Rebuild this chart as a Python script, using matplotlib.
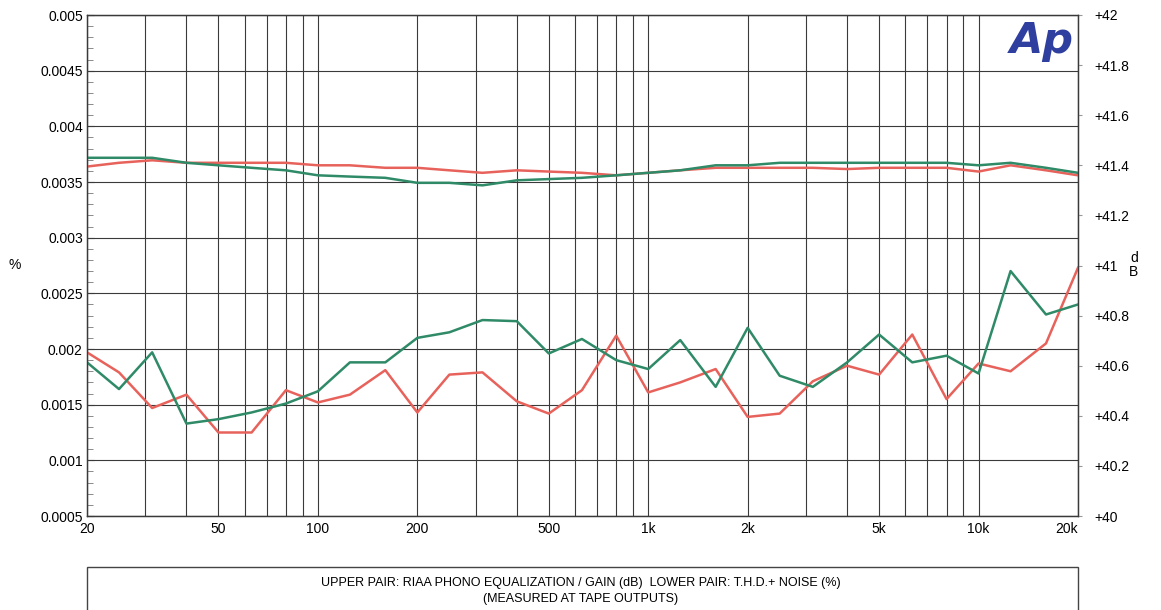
import matplotlib
matplotlib.use("Agg")
import matplotlib.pyplot as plt
from matplotlib.ticker import FixedLocator, LogLocator, NullFormatter
from matplotlib.patches import Rectangle
import numpy as np

plt.rcParams['font.family'] = ['Liberation Sans', 'DejaVu Sans']

# 1/3-octave measurement frequencies (Hz)
freqs = [20, 25, 31.5, 40, 50, 63, 80, 100, 125, 160, 200, 250, 315, 400, 500,
         630, 800, 1000, 1250, 1600, 2000, 2500, 3150, 4000, 5000, 6300, 8000,
         10000, 12500, 16000, 20000]

# lower pair: THD+N (%) - left axis
thd_red = [0.00197, 0.00179, 0.00147, 0.00159, 0.00125, 0.00125, 0.00163, 0.00152,
           0.00159, 0.00181, 0.00143, 0.00177, 0.00179, 0.00153, 0.00142, 0.00163,
           0.00212, 0.00161, 0.00170, 0.00182, 0.00139, 0.00142, 0.00171, 0.00185,
           0.00177, 0.00213, 0.00155, 0.00187, 0.00180, 0.00205, 0.00273]
thd_green = [0.00188, 0.00164, 0.00197, 0.00133, 0.00137, 0.00143, 0.00151, 0.00162,
             0.00188, 0.00188, 0.00210, 0.00215, 0.00226, 0.00225, 0.00196, 0.00209,
             0.00190, 0.00182, 0.00208, 0.00166, 0.00219, 0.00176, 0.00166, 0.00188,
             0.00213, 0.00188, 0.00194, 0.00178, 0.00270, 0.00231, 0.00240]

# upper pair: RIAA gain (dB) - right axis
db_red = [41.395, 41.41, 41.42, 41.41, 41.41, 41.41, 41.41, 41.40, 41.40, 41.39,
          41.39, 41.38, 41.37, 41.38, 41.375, 41.37, 41.36, 41.37, 41.38, 41.39,
          41.39, 41.39, 41.39, 41.385, 41.39, 41.39, 41.39, 41.375, 41.40, 41.38, 41.36]
db_green = [41.43, 41.43, 41.43, 41.41, 41.40, 41.39, 41.38, 41.36, 41.355, 41.35,
            41.33, 41.33, 41.32, 41.34, 41.345, 41.35, 41.36, 41.37, 41.38, 41.40,
            41.40, 41.41, 41.41, 41.41, 41.41, 41.41, 41.41, 41.40, 41.41, 41.39, 41.37]

xticks = [20, 50, 100, 200, 500, 1000, 2000, 5000, 10000, 20000]
xlabels = ["20", "50", "100", "200", "500", "1k", "2k", "5k", "10k", "20k"]
lticks = [0.0005, 0.001, 0.0015, 0.002, 0.0025, 0.003, 0.0035, 0.004, 0.0045, 0.005]
llabels = ["0.0005", "0.001", "0.0015", "0.002", "0.0025", "0.003", "0.0035",
           "0.004", "0.0045", "0.005"]
rticks = [40, 40.2, 40.4, 40.6, 40.8, 41, 41.2, 41.4, 41.6, 41.8, 42]
rlabels = ["+40", "+40.2", "+40.4", "+40.6", "+40.8", "+41", "+41.2", "+41.4",
           "+41.6", "+41.8", "+42"]

RED = '#e8625c'
GREEN = '#2f8a68'
GRID = '#3a3a3a'

fig = plt.figure(figsize=(11.61, 6.10), dpi=100)
ax = fig.add_axes([87/1161, 1-516/610, (1078-87)/1161, (516-15)/610])
ax2 = ax.twinx()

ax.set_xscale('log')
ax.set_xlim(20, 20000)
ax.set_ylim(0.0005, 0.005)
ax2.set_ylim(40, 42)

ax.xaxis.set_major_locator(FixedLocator(xticks))
ax.set_xticklabels(xlabels, fontsize=10)
ax.xaxis.set_minor_locator(LogLocator(base=10, subs=np.arange(1, 10), numticks=20))
ax.xaxis.set_minor_formatter(NullFormatter())
ax.tick_params(axis='x', which='both', length=0, pad=4)
ax.get_xticklabels()[-1].set_ha('right')

ax.set_yticks(lticks)
ax.set_yticklabels(llabels, fontsize=10)
ax.set_yticks(np.arange(0.0005, 0.00501, 0.0001), minor=True)
ax.tick_params(axis='y', which='major', direction='in', length=5, pad=3, color=GRID)
ax.tick_params(axis='y', which='minor', direction='in', length=4, color='#777777')

ax.grid(True, axis='x', which='both', color=GRID, lw=0.8)
ax.grid(True, axis='y', which='major', color=GRID, lw=0.8)
ax.set_axisbelow(True)

ax2.set_yticks(rticks)
ax2.set_yticklabels(rlabels, fontsize=10)
ax2.tick_params(axis='y', direction='out', length=3, pad=9, color='#999999')

for a in (ax, ax2):
    for s in a.spines.values():
        s.set_color(GRID)
        s.set_linewidth(0.9)

ax.plot(freqs, thd_red, color=RED, lw=1.8, zorder=3)
ax.plot(freqs, thd_green, color=GREEN, lw=1.8, zorder=3)
ax2.plot(freqs, db_red, color=RED, lw=1.8)
ax2.plot(freqs, db_green, color=GREEN, lw=1.8)

fig.text(15/1161, 1-265/610, "%", fontsize=10, ha='center', va='center')
fig.text(1134/1161, 1-265/610, "d\nB", fontsize=10, ha='center', va='center',
         linespacing=1.0)

ax2.text(0.996, 0.99, "Ap", transform=ax2.transAxes, ha='right', va='top',
         fontsize=31, fontweight='heavy', style='italic', color='#2f3f9f',
         family='DejaVu Sans')

# caption box under the chart
box = Rectangle((87/1161, -0.05), (1078-87)/1161, 0.05 + 1-567/610,
                transform=fig.transFigure, fill=False, edgecolor='#444444',
                lw=1.0, clip_on=False)
fig.patches.append(box)
fig.text(0.5, 1-583/610,
         "UPPER PAIR: RIAA PHONO EQUALIZATION / GAIN (dB)  LOWER PAIR: T.H.D.+ NOISE (%)",
         fontsize=9, ha='center', va='center')
fig.text(0.5, 1-599/610, "(MEASURED AT TAPE OUTPUTS)", fontsize=9,
         ha='center', va='center')

fig.savefig("out.png", dpi=100)
